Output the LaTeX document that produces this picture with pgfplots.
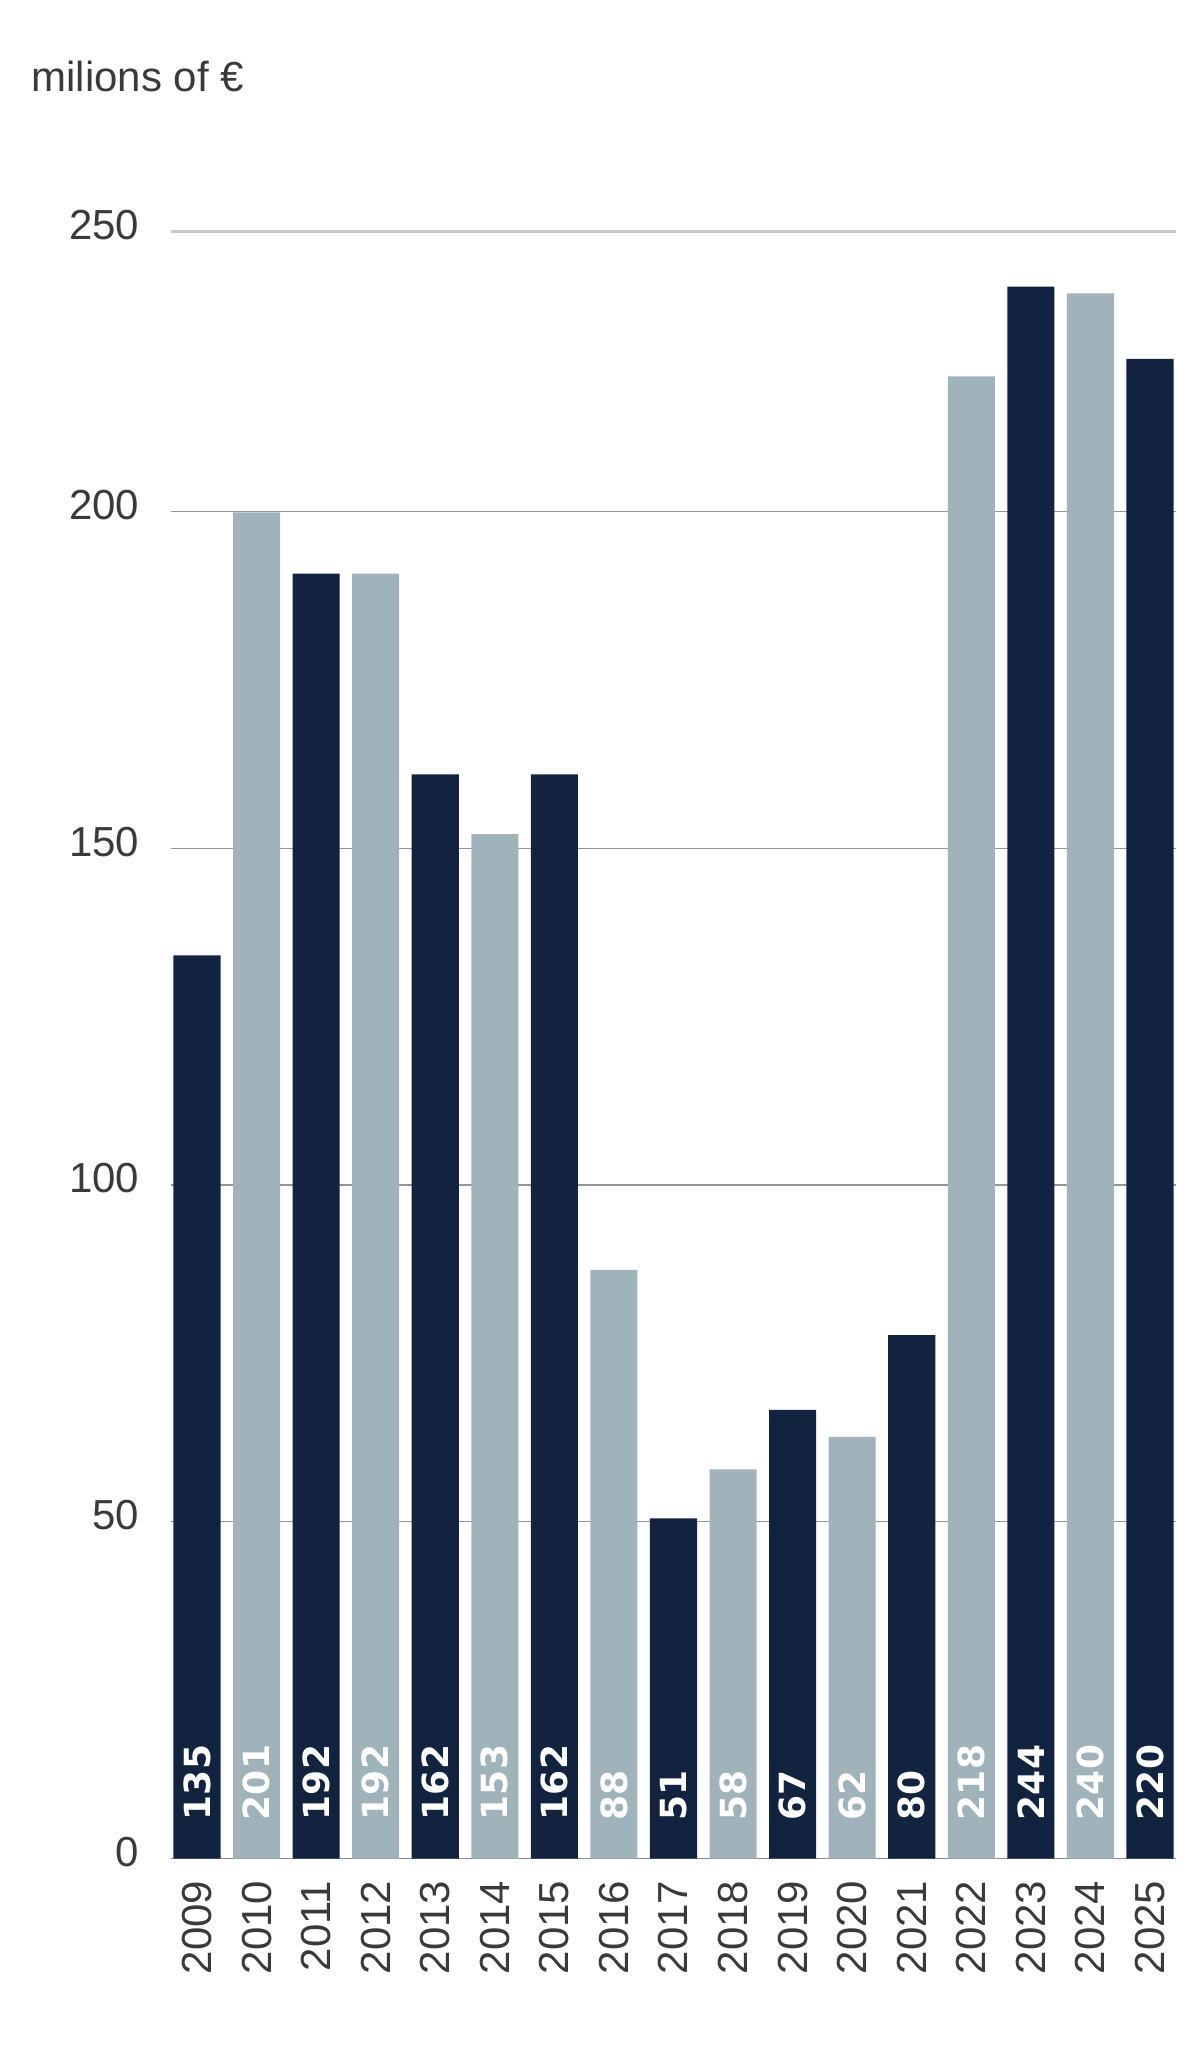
\documentclass[border=0pt]{standalone}
\usepackage{fontspec}
\setmainfont{Liberation Sans}
\newfontfamily\valfont{DejaVu Sans}
\usepackage{pgfplots}
\usepackage{pgfplotstable}
\pgfplotsset{compat=1.18}
\definecolor{navy}{RGB}{18,35,63}
\definecolor{steel}{RGB}{160,179,187}
\definecolor{txt}{RGB}{58,58,58}
\definecolor{gridc}{RGB}{150,150,150}
\definecolor{axisc}{RGB}{140,140,140}
\definecolor{topgrid}{RGB}{200,200,200}

\pgfplotstableread{
x h lab
0 134.1 135
2 190.8 192
4 161.0 162
6 161.0 162
8 50.5 51
10 66.6 67
12 77.7 80
14 233.4 244
16 222.7 220
}\darkdata
\pgfplotstableread{
x h lab
1 199.9 201
3 190.8 192
5 152.1 153
7 87.4 88
9 57.8 58
11 62.6 62
13 220.1 218
15 232.4 240
}\lightdata

\begin{document}
\begin{tikzpicture}
\begin{axis}[name=ax, scale only axis, width=251.25pt, height=406.75pt,
 xmin=-0.4365, xmax=16.4365, ymin=0, ymax=241.6,
 axis x line*=bottom, axis y line*=left,
 y axis line style={draw=none},
 x axis line style={draw=axisc, line width=0.4pt},
 major tick length=0pt,
 xtick={0,1,2,3,4,5,6,7,8,9,10,11,12,13,14,15,16},
 xticklabels={2009,2010,2011,2012,2013,2014,2015,2016,2017,2018,2019,2020,2021,2022,2023,2024,2025},
 ytick={0,50,100,150,200},
 extra y ticks={241.6}, extra y tick labels={250},
 extra y tick style={grid style={draw=topgrid, line width=0.7pt}},
 ymajorgrids, grid style={draw=gridc, line width=0.35pt},
 ticklabel style={font=\fontsize{10.5}{12}\selectfont, text=txt, inner sep=0pt},
 yticklabel style={anchor=east, xshift=-7.75pt, yshift=1.7pt},
 xticklabel style={yshift=-5.4pt, rotate=90, anchor=east},
 /pgf/number format/assume math mode=true,
 clip=false,
]
\addplot[ybar, bar width=0.79, bar shift=0pt, fill=navy, draw=none] table[x=x, y=h]{\darkdata};
\addplot[ybar, bar width=0.79, bar shift=0pt, fill=steel, draw=none] table[x=x, y=h]{\lightdata};
\addplot[draw=none, mark=none, nodes near coords, point meta=explicit symbolic,
  nodes near coords style={font=\valfont\bfseries\fontsize{9}{10}\selectfont, text=white, inner sep=0pt, yshift=9.4pt, rotate=90, anchor=west}]
  table[x=x, y expr=0, meta=lab]{\darkdata};
\addplot[draw=none, mark=none, nodes near coords, point meta=explicit symbolic,
  nodes near coords style={font=\valfont\bfseries\fontsize{9}{10}\selectfont, text=white, inner sep=0pt, yshift=9.4pt, rotate=90, anchor=west}]
  table[x=x, y expr=0, meta=lab]{\lightdata};
\node[anchor=base west, inner sep=0pt, text=txt, font=\fontsize{10.5}{12}\selectfont, xshift=-35.1pt, yshift=34.95pt] at (rel axis cs:0,1) {milions of €};
\end{axis}
\path[use as bounding box] ([shift={(-42.75pt,-49.375pt)}]ax.south west) rectangle ([shift={(257.25pt,464.625pt)}]ax.south west);
\end{tikzpicture}
\end{document}
